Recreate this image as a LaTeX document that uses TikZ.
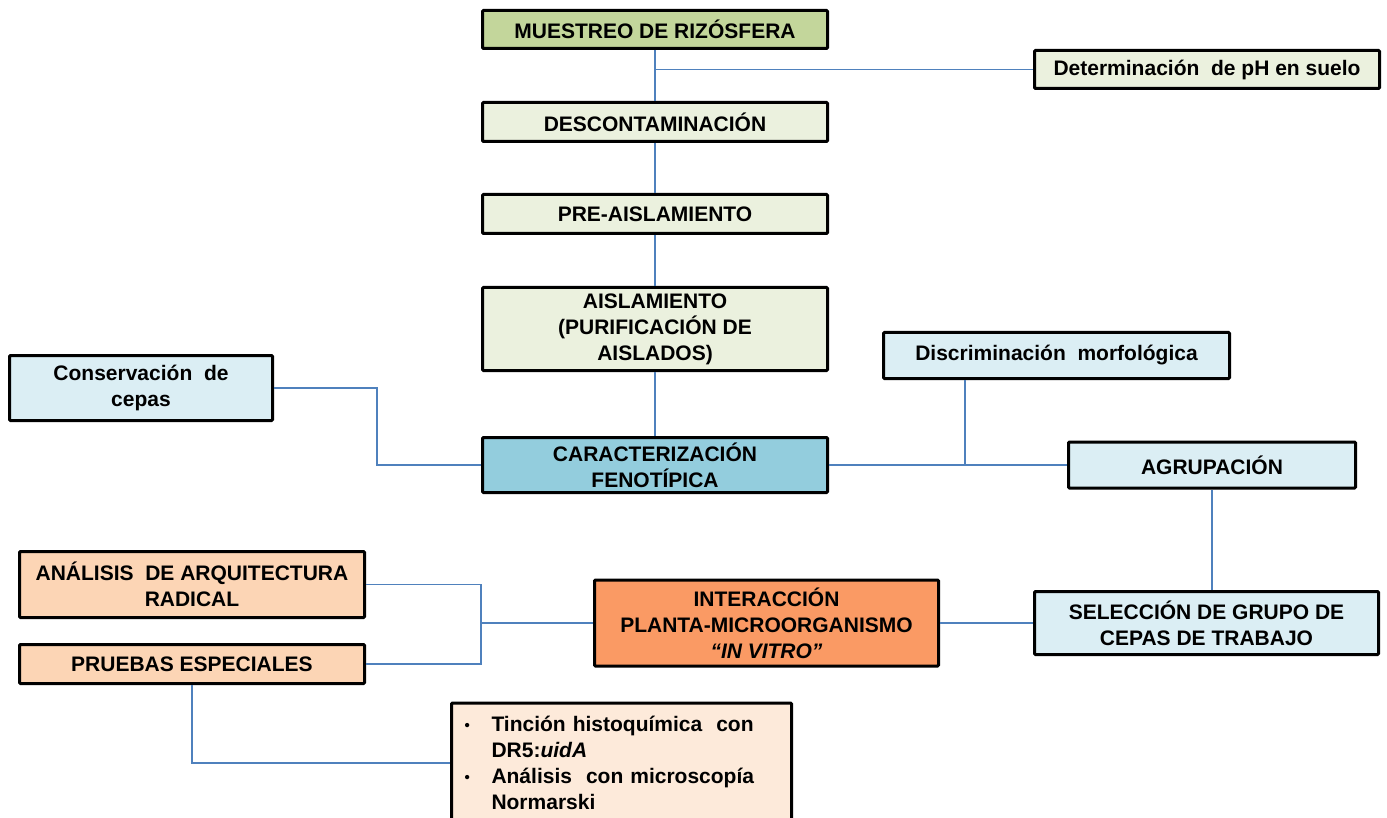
\documentclass[tikz,border=0pt]{standalone}
\usepackage{fontspec}
\setmainfont{Liberation Sans}
\definecolor{verdeO}{HTML}{C3D69B}
\definecolor{verdeC}{HTML}{EBF1DE}
\definecolor{azulC}{HTML}{DBEEF4}
\definecolor{azulM}{HTML}{93CDDD}
\definecolor{durazno}{HTML}{FCD5B5}
\definecolor{naranja}{HTML}{FA9A64}
\definecolor{crema}{HTML}{FDEADA}
\definecolor{linea}{HTML}{4F81BD}
\newcommand{\vineta}{\makebox[27pt][l]{\raisebox{1.5pt}{\fontsize{15}{15}\selectfont\textbullet}}}

\begin{document}
\begin{tikzpicture}[x=1pt,y=-1pt,
  caja/.style={draw=black, line width=3pt, rounded corners=1pt, inner sep=2pt,
    align=center, font=\fontsize{21}{26}\selectfont\bfseries},
  enlace/.style={draw=linea, line width=1.8pt}]

% 画布
\clip (0,0) rectangle (1387,818);
\fill[white] (0,0) rectangle (1387,818);

% 画框
\node[caja, fill=verdeO, minimum width=345, minimum height=38] (mues) at (655,29.5) {MUESTREO DE RIZÓSFERA};
\node[caja, fill=verdeC, minimum width=345, minimum height=38] (ph) at (1207,69.5) {Determinación\ \ de pH en suelo};
\node[caja, fill=verdeC, minimum width=345, minimum height=39] (desc) at (655,122) {DESCONTAMINACIÓN};
\node[caja, fill=verdeC, minimum width=345, minimum height=39] (pre) at (655,214) {PRE-AISLAMIENTO};
\node[caja, fill=verdeC, minimum width=345, minimum height=83] (ais) at (655,329) {AISLAMIENTO\\(PURIFICACIÓN DE\\AISLADOS)};
\node[caja, fill=azulC, minimum width=263, minimum height=65] (cons) at (141,388) {Conservación\ \ de\\cepas};
\node[caja, fill=azulM, minimum width=345, minimum height=55] (carac) at (655,465) {CARACTERIZACIÓN\\FENOTÍPICA};
\node[caja, fill=azulC, minimum width=346, minimum height=46] (disc) at (1056.5,355.5) {Discriminación\ \ morfológica};
\node[caja, fill=azulC, minimum width=287, minimum height=46] (agru) at (1212,465) {AGRUPACIÓN};
\node[caja, fill=durazno, minimum width=345, minimum height=66] (arq) at (192,584.5) {ANÁLISIS\ \ DE ARQUITECTURA\\RADICAL};
\node[caja, fill=durazno, minimum width=345, minimum height=39] (prue) at (192,664) {PRUEBAS ESPECIALES};
\node[caja, fill=naranja, minimum width=344, minimum height=86] (inter) at (766.5,623) {INTERACCIÓN\\PLANTA-MICROORGANISMO\\\textit{“IN VITRO”}};
\node[caja, fill=azulC, minimum width=344, minimum height=63] (sel) at (1206.5,623) {SELECCIÓN DE GRUPO DE\\CEPAS DE TRABAJO};
\node[caja, fill=crema, text width=314, minimum height=120, align=left, anchor=north west,
  inner xsep=13pt, inner ysep=7pt] (lista) at (450,701.5)
  {\vineta Tinción histoquímica\ \ con\\
   \hspace*{27pt}DR5:\textit{uidA}\\
   \vineta Análisis\ \ con microscopía\\
   \hspace*{27pt}Normarski};

% 画连线
\draw[enlace] (mues) -- (desc);
\draw[enlace] (mues.south |- ph.west) -- (ph.west);
\draw[enlace] (desc) -- (pre);
\draw[enlace] (pre) -- (ais);
\draw[enlace] (ais) -- (carac);
\draw[enlace] (cons.east) -- ++(103,0) |- (carac.west);
\draw[enlace] (carac.east) -- (agru.west);
\coordinate (uniD) at (965,465);
\draw[enlace] (disc.south -| uniD) -- (uniD);
\draw[enlace] (agru.south) -- (agru.south |- sel.north);
\draw[enlace] (sel.west) -- (inter.east);
\draw[enlace] (inter.west) -- ++(-112,0) coordinate (bif);
\draw[enlace] (arq.east) -| (bif) |- (prue.east);
\draw[enlace] (prue.south) |- (lista.west);

\end{tikzpicture}
\end{document}
